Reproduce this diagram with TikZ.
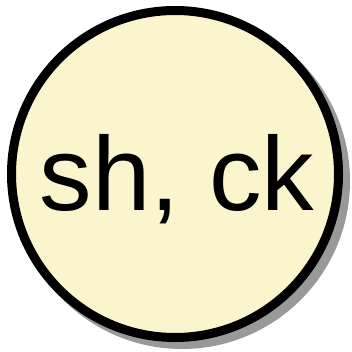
\documentclass[tikz,border=0pt]{standalone}
\usepackage{fontspec}
\setmainfont{Liberation Sans}
\definecolor{fillyellow}{HTML}{FAF5CC}
\definecolor{shadowgray}{HTML}{999999}
\begin{document}
\begin{tikzpicture}[x=1pt,y=1pt,
  circ/.style={circle, minimum size=327pt, inner sep=0pt, draw=black, line width=9pt, fill=fillyellow},
  shad/.style={circle, minimum size=327pt, inner sep=0pt, fill=shadowgray, draw=shadowgray, line width=9pt}]
\useasboundingbox (0,0) rectangle (352,351);
\node[shad] (s) at (182,170) {};
\node[circ] (c) at (175,177) {};
\node[anchor=base, font=\fontsize{105}{112}\selectfont, inner sep=0pt] (t) at (177,141) {sh, ck};
\end{tikzpicture}
\end{document}
